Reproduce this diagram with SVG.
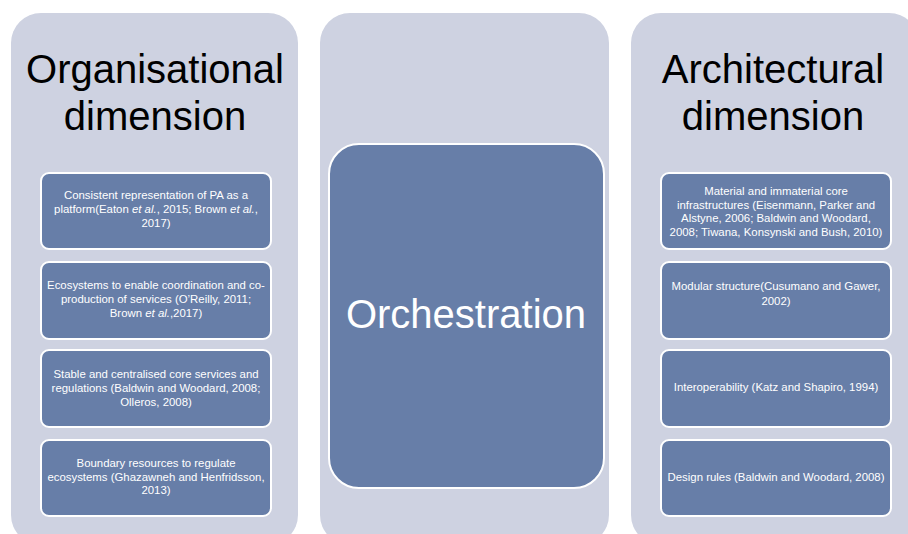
<svg xmlns="http://www.w3.org/2000/svg" width="908" height="534" viewBox="0 0 908 534">
<style>
.panel{fill:#CED2E1;}
.box{fill:#677EA8;stroke:#FFFFFF;stroke-width:2;}
.title{font-family:"Liberation Sans",Arial,sans-serif;font-size:40px;fill:#000000;text-anchor:middle;}
.big{font-family:"Liberation Sans",Arial,sans-serif;font-size:40px;fill:#FFFFFF;text-anchor:middle;}
.t{font-family:"Liberation Sans",Arial,sans-serif;font-size:11.4px;fill:#FFFFFF;text-anchor:middle;}
</style>
<rect width="908" height="534" fill="#FFFFFF"/>
<g id="organisational">
<rect class="panel" x="11" y="13" width="287" height="532" rx="30"/>
<text class="title" x="155" y="83">Organisational</text>
<text class="title" x="155" y="130">dimension</text>
</g>
<g id="org1">
<rect class="box" x="41" y="173" width="230" height="76" rx="8"/>
<text class="t" x="156" y="199">Consistent  representation  of PA as a</text>
<text class="t" x="156" y="213">platform(Eaton <tspan font-style="italic">et al.</tspan>, 2015; Brown <tspan font-style="italic">et al.</tspan>,</text>
<text class="t" x="156" y="227">2017)</text>
</g>
<g id="org2">
<rect class="box" x="41" y="262" width="230" height="77" rx="8"/>
<text class="t" x="156" y="289">Ecosystems to enable coordination and co-</text>
<text class="t" x="156" y="303">production of services (O’Reilly,  2011;</text>
<text class="t" x="156" y="317">Brown <tspan font-style="italic">et al.</tspan>,2017)</text>
</g>
<g id="org3">
<rect class="box" x="41" y="350" width="230" height="77" rx="8"/>
<text class="t" x="156" y="378">Stable and centralised core services and</text>
<text class="t" x="156" y="392">regulations  (Baldwin and Woodard, 2008;</text>
<text class="t" x="156" y="406">Olleros, 2008)</text>
</g>
<g id="org4">
<rect class="box" x="41" y="440" width="230" height="76" rx="8"/>
<text class="t" x="156" y="467">Boundary resources to regulate</text>
<text class="t" x="156" y="481">ecosystems (Ghazawneh and Henfridsson,</text>
<text class="t" x="156" y="494">2013)</text>
</g>
<g id="middle">
<rect class="panel" x="320" y="13" width="289" height="532" rx="30"/>
</g>
<g id="orchestration">
<rect class="box" x="329" y="144" width="275" height="344" rx="30"/>
<text class="big" x="466" y="328">Orchestration</text>
</g>
<g id="architectural">
<rect class="panel" x="631" y="13" width="288" height="532" rx="30"/>
<text class="title" x="773" y="83">Architectural</text>
<text class="title" x="773" y="130">dimension</text>
</g>
<g id="arch1">
<rect class="box" x="661" y="173" width="230" height="76" rx="8"/>
<text class="t" x="776" y="195">Material and immaterial core</text>
<text class="t" x="776" y="209">infrastructures (Eisenmann,  Parker and</text>
<text class="t" x="776" y="222">Alstyne,  2006; Baldwin  and Woodard,</text>
<text class="t" x="776" y="236">2008; Tiwana, Konsynski  and Bush,  2010)</text>
</g>
<g id="arch2">
<rect class="box" x="661" y="262" width="230" height="77" rx="8"/>
<text class="t" x="776" y="290">Modular structure(Cusumano  and Gawer,</text>
<text class="t" x="776" y="305">2002)</text>
</g>
<g id="arch3">
<rect class="box" x="661" y="350" width="230" height="77" rx="8"/>
<text class="t" x="776" y="391">Interoperability  (Katz and Shapiro,  1994)</text>
</g>
<g id="arch4">
<rect class="box" x="661" y="440" width="230" height="76" rx="8"/>
<text class="t" x="776" y="481">Design rules (Baldwin  and Woodard,  2008)</text>
</g>
<g id="connectors"></g>
</svg>
